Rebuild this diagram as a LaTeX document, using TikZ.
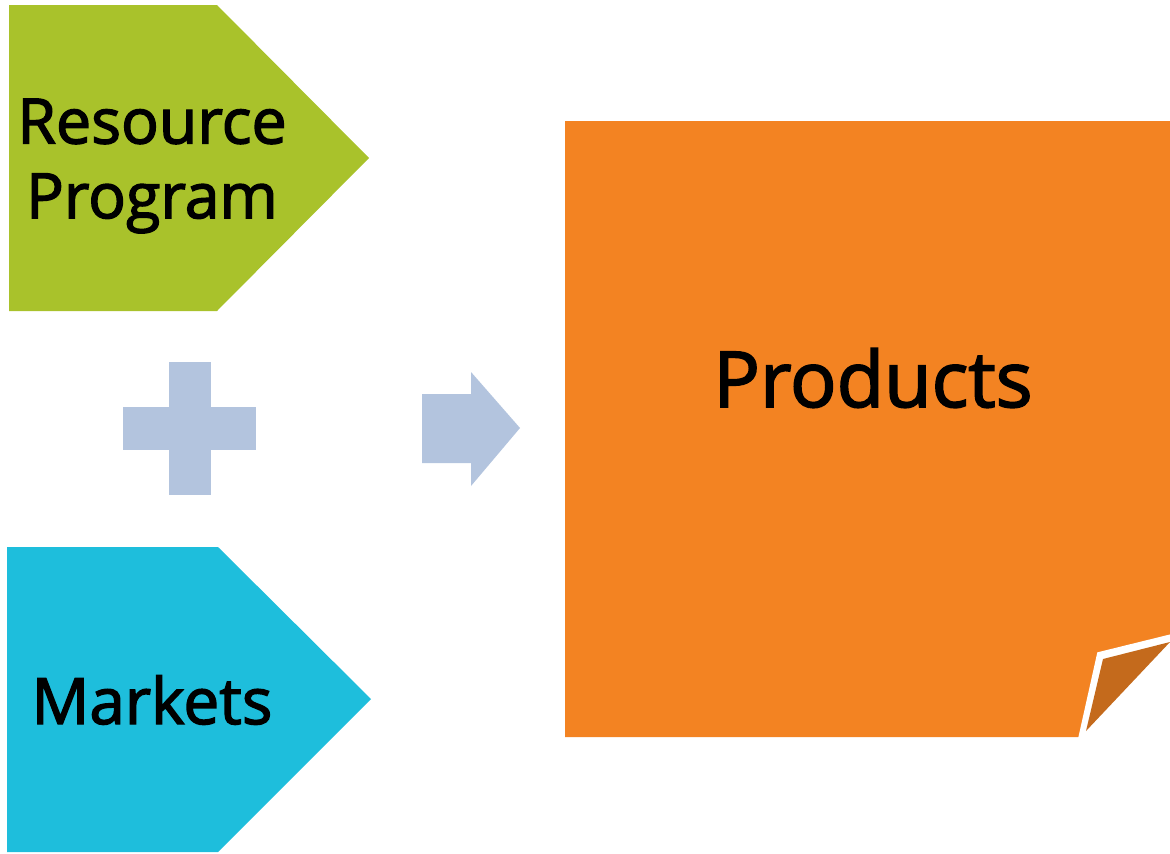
\documentclass[tikz,border=0pt]{standalone}
\usepackage{fontspec}
\setmainfont{Open Sans}
\newfontfamily\semibold[FakeBold=2.2]{Open Sans}
\usetikzlibrary{positioning}

\definecolor{resgreen}{RGB}{169,194,43}
\definecolor{mktblue}{RGB}{30,190,220}
\definecolor{prodorange}{RGB}{243,131,34}
\definecolor{folddark}{RGB}{196,106,28}
\definecolor{signgray}{RGB}{179,196,222}

\begin{document}
\begin{tikzpicture}[x=0.75pt,y=-0.75pt]
	\tikzstyle{mylabel}=[text=black,align=center,inner sep=0pt]
	\tikzstyle{mysign}=[fill=signgray,draw=none]
	\tikzstyle{myfold}=[draw=white,line width=3pt,line join=miter]

	\useasboundingbox (0,0) rectangle (1170,853);

	% pentagons on the left
	\fill[resgreen] (9,5) -- (217,5) -- (369,158) -- (217,311) -- (9,311) -- cycle;
	\fill[mktblue] (7,547) -- (218,547) -- (371,699) -- (218,852) -- (7,852) -- cycle;

	% plus and arrow
	\fill[mysign] (169,362) rectangle (211,495);
	\fill[mysign] (123,407) rectangle (256,450);
	\fill[mysign] (422,394) -- (471,394) -- (471,372) -- (520,428) -- (471,486) -- (471,463) -- (422,463) -- cycle;

	% note with folded corner
	\fill[prodorange] (565,121) -- (1170,121) -- (1170,636) -- (1099,654) -- (1080,737) -- (565,737) -- cycle;
	\fill[folddark] (1103,659) -- (1170,642) -- (1086,731) -- cycle;
	\draw[myfold] (1080,739) -- (1099,654) -- (1172,636);

	\node[mylabel, font=\semibold\fontsize{47}{56}\selectfont] (resource) at (152,166) {Resource\\Program};
	\node[mylabel, font=\semibold\fontsize{48}{60}\selectfont] (markets) at (152,700) {Markets};
	\node[mylabel, font=\semibold\fontsize{58}{70}\selectfont] (products) at (873,378) {Products};
\end{tikzpicture}
\end{document}
